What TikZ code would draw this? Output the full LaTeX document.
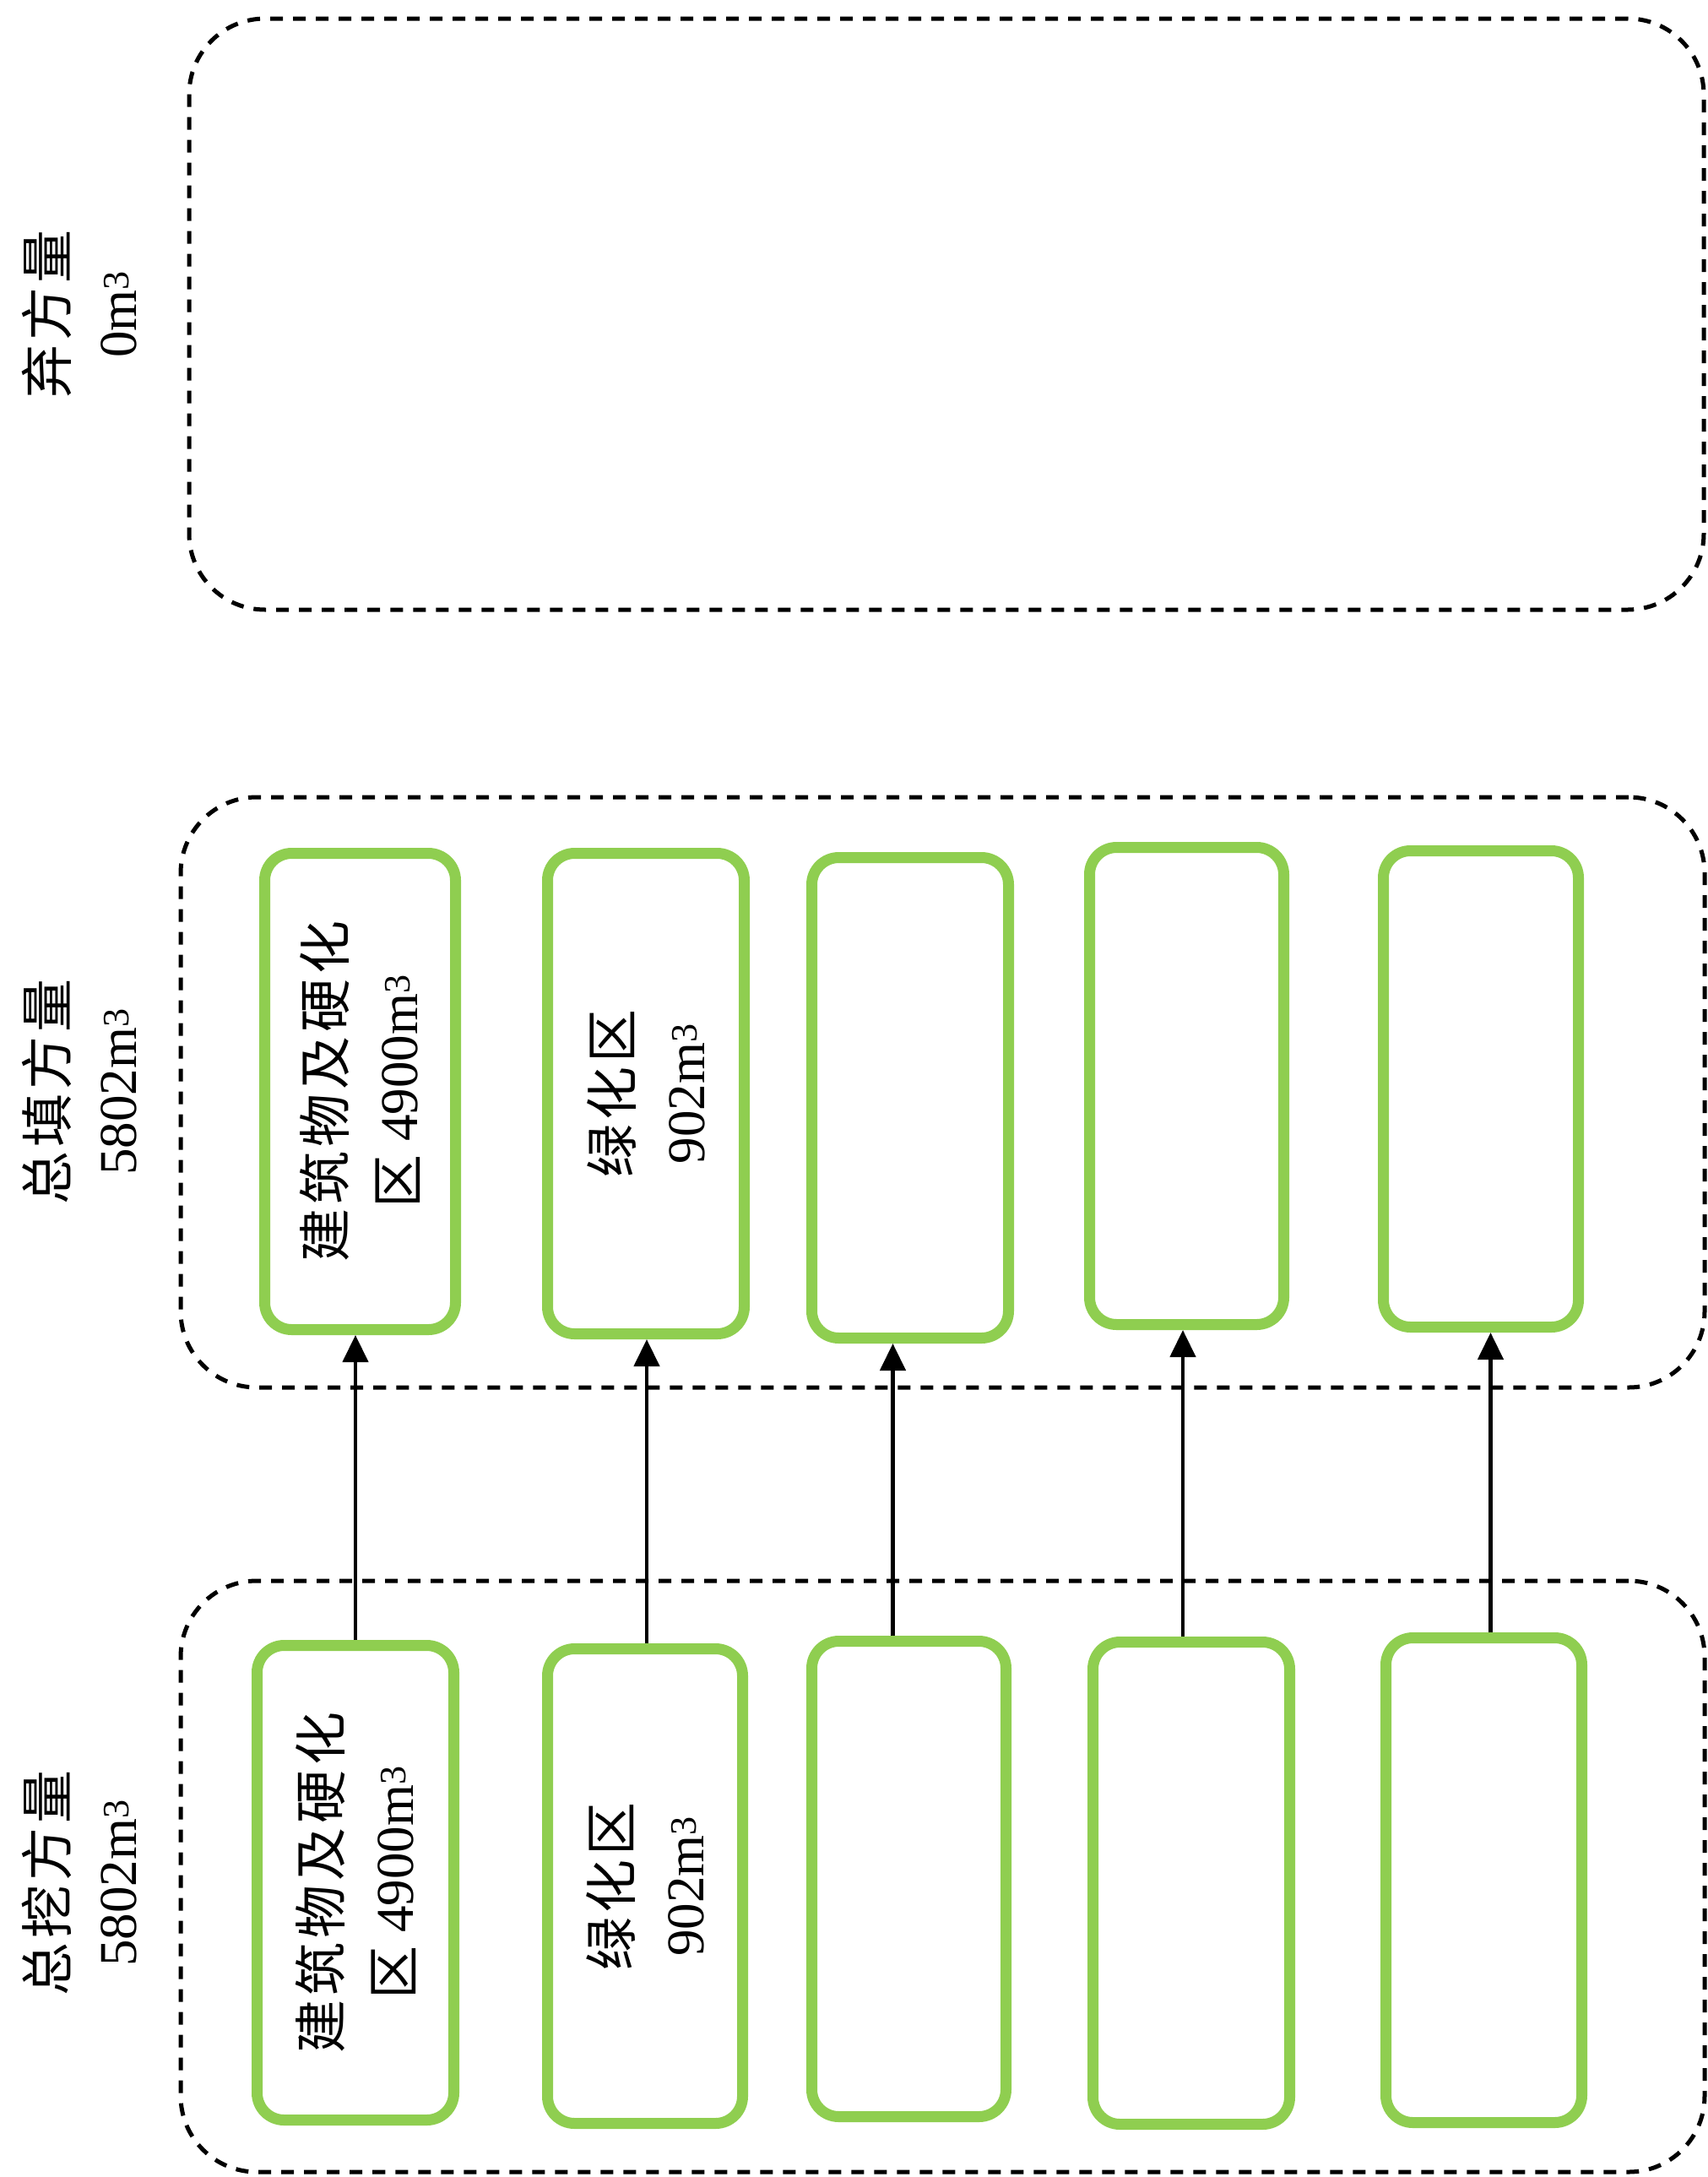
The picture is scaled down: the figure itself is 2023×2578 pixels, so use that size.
\documentclass[tikz,border=0pt]{standalone}
\usepackage{fontspec}
\setmainfont{Liberation Serif}
\newfontfamily\cjk[LetterSpace=8]{Noto Sans CJK SC}
\usetikzlibrary{arrows.meta}
\definecolor{boxgreen}{RGB}{143,206,80}
\begin{document}
\begin{tikzpicture}[x=1pt,y=-1pt,
  dbox/.style={draw=black, line width=5pt, dash pattern=on 15pt off 12pt, rounded corners=90pt, inner sep=0pt},
  gbox/.style={draw=boxgreen, line width=13pt, rounded corners=32pt, inner sep=0pt},
  btext/.style={rotate=90, align=center, inner sep=0pt, font=\fontsize{63}{86}\selectfont},
  ltext/.style={rotate=90, align=center, inner sep=0pt, font=\fontsize{63}{82}\selectfont},
  flow/.style={line width=4.5pt, -{Triangle[length=32pt,width=30pt]}}]
\useasboundingbox (0,0) rectangle (2023,2578);

% dashed group boxes
\node[dbox, minimum width=1794pt, minimum height=700pt] (D3) at (1121,372) {};
\node[dbox, minimum width=1805pt, minimum height=699pt] (D2) at (1116.5,1293.5) {};
\node[dbox, minimum width=1805pt, minimum height=700pt] (D1) at (1116.5,2222) {};

% side labels
\node[ltext] (L3) at (94,372) {{\cjk 弃方量}\\0m\textsuperscript{3}};
\node[ltext] (L2) at (94,1293) {{\cjk 总填方量}\\5802m\textsuperscript{3}};
\node[ltext] (L1) at (94,2230) {{\cjk 总挖方量}\\5802m\textsuperscript{3}};

% fill row (middle)
\node[gbox, minimum width=226pt, minimum height=564pt] (m1) at (426.5,1292.5) {};
\node[gbox, minimum width=233pt, minimum height=569pt] (m2) at (765,1295) {};
\node[gbox, minimum width=233pt, minimum height=569pt] (m3) at (1078,1300) {};
\node[gbox, minimum width=230pt, minimum height=565pt] (m4) at (1405.5,1286) {};
\node[gbox, minimum width=231pt, minimum height=564pt] (m5) at (1754,1289.5) {};

% excavation row (bottom)
\node[gbox, minimum width=233pt, minimum height=562pt] (b1) at (421,2229.5) {};
\node[gbox, minimum width=231pt, minimum height=562pt] (b2) at (764,2233.5) {};
\node[gbox, minimum width=230pt, minimum height=563pt] (b3) at (1076.5,2225) {};
\node[gbox, minimum width=233pt, minimum height=571pt] (b4) at (1411,2230) {};
\node[gbox, minimum width=232pt, minimum height=574pt] (b5) at (1757.5,2226.5) {};

% box texts
\node[btext] (tm1) at (m1) {{\cjk 建筑物及硬化}\\{\cjk 区} 4900m\textsuperscript{3}};
\node[btext] (tm2) at (m2) {{\cjk 绿化区}\\902m\textsuperscript{3}};
\node[btext] (tb1) at (b1) {{\cjk 建筑物及硬化}\\{\cjk 区} 4900m\textsuperscript{3}};
\node[btext] (tb2) at (b2) {{\cjk 绿化区}\\902m\textsuperscript{3}};

% arrows
\draw[flow] (b1.north) -- (b1.north |- m1.south);
\draw[flow] ([xshift=2pt]b2.north) -- ([xshift=2pt]b2.north |- m2.south);
\draw[flow] ([xshift=-19pt]b3.north) -- ([xshift=-19pt]b3.north |- m3.south);
\draw[flow] ([xshift=-10pt]b4.north) -- ([xshift=-10pt]b4.north |- m4.south);
\draw[flow] ([xshift=8pt]b5.north) -- ([xshift=8pt]b5.north |- m5.south);
\end{tikzpicture}
\end{document}
